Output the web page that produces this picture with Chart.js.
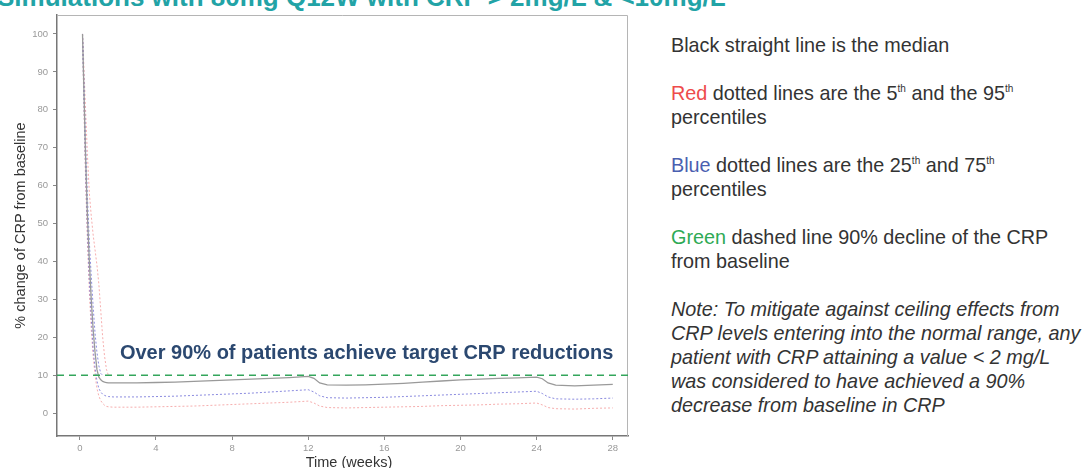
<!DOCTYPE html>
<html><head><meta charset="utf-8">
<script src="https://cdn.jsdelivr.net/npm/chart.js@4.4.1/dist/chart.umd.min.js"></script>
<style>
html,body{margin:0;padding:0;background:#fff;width:1089px;height:468px;overflow:hidden;font-family:"Liberation Sans",Arial,sans-serif;}
#title{position:absolute;left:-3px;top:-18px;font-size:26px;font-weight:bold;color:#22a3a6;white-space:nowrap;}
#wrap{position:absolute;left:0;top:0;width:640px;height:468px;}
#xtitle{position:absolute;left:249px;width:200px;text-align:center;top:453px;font-size:14.5px;color:#333;line-height:18px;}
#notes{position:absolute;left:671px;top:33px;width:418px;font-size:19.8px;color:#333;line-height:24px;white-space:nowrap;}
#notes p{margin:0 0 24px 0;}
#notes sup{font-size:10px;line-height:0;vertical-align:8px;}
.r{color:#ee4b4b}.b{color:#4a5fb0}.g{color:#2eaa55}
#notes .note{font-style:italic;}
</style>
</head><body>
<div id="title">Simulations with 80mg Q12W with CRP &gt; 2mg/L &amp; &lt;10mg/L</div>
<div id="wrap"><canvas id="c" width="640" height="468"></canvas></div>
<div id="xtitle">Time (weeks)</div>
<div id="notes">
<p>Black straight line is the median</p>
<p><span class="r">Red</span> dotted lines are the 5<sup>th</sup> and the 95<sup>th</sup><br>percentiles</p>
<p><span class="b">Blue</span> dotted lines are the 25<sup>th</sup> and 75<sup>th</sup><br>percentiles</p>
<p><span class="g">Green</span> dashed line 90% decline of the CRP<br>from baseline</p>
<p class="note">Note: To mitigate against ceiling effects from<br>CRP levels entering into the normal range, any<br>patient with CRP attaining a value &lt; 2 mg/L<br>was considered to have achieved a 90%<br>decrease from baseline in CRP</p>
</div>
<script>
// time points (weeks)
const weeks = [0.14,0.2,0.3,0.4,0.5,0.6,0.7,0.8,0.9,1.0,
  1.1,1.2,1.3,1.4,1.5,1.75,2,
  3,4,5,6,7,8,9,10,11,12,
  12.3,12.6,13,
  14,15,16,17,18,19,20,21,22,23,24,
  24.3,24.6,25,
  26,27,28];
// % change of CRP from baseline
const median = [100,88,68,52,40,30,22,16,11.5,9.5,
  8.8,8.4,8.2,8.1,8.0,8.0,8.0,
  8.0,8.1,8.2,8.4,8.6,8.8,9.0,9.2,9.4,9.7,
  9.2,8.0,7.5,
  7.4,7.5,7.7,7.9,8.2,8.5,8.8,9.0,9.2,9.3,9.5,
  9.1,8.0,7.4,
  7.2,7.4,7.6];
const p25 = [100,86,64,48,35,25,17,12,8.5,6.5,
  5.6,5.0,4.7,4.5,4.4,4.3,4.3,
  4.3,4.4,4.5,4.7,4.9,5.1,5.3,5.6,5.9,6.2,
  5.6,4.6,4.1,
  4.0,4.1,4.2,4.4,4.6,4.8,5.0,5.2,5.4,5.6,5.8,
  5.2,4.3,3.8,
  3.7,3.8,4.0];
const p5 = [100,84,62,45,32,22,15,10,6.5,4.5,
  3.3,2.6,2.1,1.8,1.7,1.6,1.6,
  1.6,1.7,1.8,1.9,2.1,2.3,2.5,2.7,2.9,3.2,
  2.7,1.9,1.5,
  1.4,1.5,1.6,1.7,1.8,2.0,2.1,2.2,2.4,2.5,2.7,
  2.2,1.5,1.2,
  1.1,1.3,1.4];
const p75 = [100,90,72,57,45,36,28,21,16,12.5,10.5,10];
const p95 = [100,93,80,68,58,52,47,43,39,34,27,20,15,11.5,10];
const targetLine = [[-1.2,10],[28.8,10]];
const xTickVals = [0,4,8,12,16,20,24,28];
const yTickVals = [0,10,20,30,40,50,60,70,80,90,100];

const toPts = arr => arr.map((v,i)=>({x:weeks[i],y:v}));

const framePlugin = {
  id:'frame',
  beforeDatasetsDraw(chart){
    const {ctx,chartArea:a} = chart;
    ctx.save();
    ctx.strokeStyle='#b5b5b5';ctx.lineWidth=1;
    ctx.beginPath();
    ctx.moveTo(a.left,a.top+0.5);ctx.lineTo(a.right-0.5,a.top+0.5);ctx.lineTo(a.right-0.5,a.bottom);
    ctx.stroke();
    ctx.restore();
  },
  afterDatasetsDraw(chart){
    const {ctx} = chart;
    const xs=chart.scales.x, ys=chart.scales.y;
    ctx.save();
    ctx.font='bold 20px "Liberation Sans", Arial, sans-serif';
    ctx.fillStyle='#2b4870';
    ctx.textAlign='center';ctx.textBaseline='middle';
    ctx.fillText('Over 90% of patients achieve target CRP reductions', xs.getPixelForValue(15.07), ys.getPixelForValue(15.8));
    ctx.restore();
  }
};

new Chart(document.getElementById('c'),{
  type:'line',
  data:{datasets:[
    {label:'90% decline',data:targetLine.map(p=>({x:p[0],y:p[1]})),borderColor:'#34a65c',borderWidth:1.5,borderDash:[7,5],pointRadius:0,tension:0},
    {label:'Median',data:toPts(median),borderColor:'#9a9a9a',borderWidth:1.3,pointRadius:0,tension:0},
    {label:'25th',data:toPts(p25),borderColor:'rgba(110,110,215,0.8)',borderWidth:1,borderDash:[2,2],pointRadius:0,tension:0},
    {label:'75th',data:toPts(p75),borderColor:'rgba(110,110,215,0.8)',borderWidth:1,borderDash:[2,2],pointRadius:0,tension:0},
    {label:'5th',data:toPts(p5),borderColor:'rgba(240,120,120,0.6)',borderWidth:1,borderDash:[2,2],pointRadius:0,tension:0},
    {label:'95th',data:toPts(p95),borderColor:'rgba(240,120,120,0.6)',borderWidth:1,borderDash:[2,2],pointRadius:0,tension:0}
  ]},
  options:{
    responsive:false,animation:false,
    layout:{padding:{left:0,right:12,top:15,bottom:0}},
    plugins:{legend:{display:false},tooltip:{enabled:false}},
    scales:{
      x:{type:'linear',min:-1.2,max:28.8,
        afterBuildTicks:s=>{s.ticks=xTickVals.map(v=>({value:v}));},
        afterFit:s=>{s.height=32;},
        grid:{drawOnChartArea:false,drawTicks:true,tickLength:4,color:'#888'},
        border:{display:true,color:'#777',width:1.5},
        ticks:{color:'#999',font:{size:9.5,family:'"Liberation Sans", Arial'},padding:3,maxRotation:0},
        title:{display:false}
      },
      y:{type:'linear',min:-6,max:105,
        afterBuildTicks:s=>{s.ticks=yTickVals.map(v=>({value:v}));},
        afterFit:s=>{s.width=57;},
        grid:{drawOnChartArea:false,drawTicks:true,tickLength:4,color:'#888'},
        border:{display:true,color:'#777',width:1.5},
        ticks:{color:'#999',font:{size:9.5,family:'"Liberation Sans", Arial'},padding:5},
        title:{display:true,text:'% change of CRP from baseline',color:'#333',font:{size:14.5,family:'"Liberation Sans", Arial'},padding:{top:12,bottom:0}}
      }
    }
  },
  plugins:[framePlugin]
});
</script>
</body></html>
